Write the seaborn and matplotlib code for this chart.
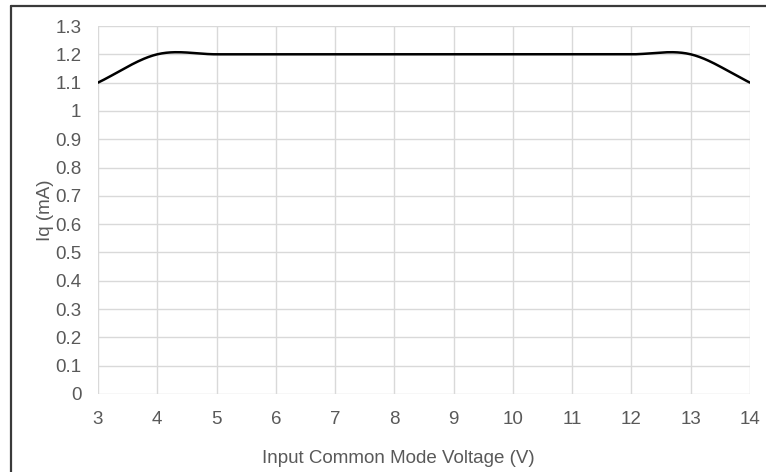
import numpy as np
import pandas as pd
import matplotlib
matplotlib.use('Agg')
import matplotlib.pyplot as plt
import seaborn as sb
from matplotlib.lines import Line2D

# values
voltage = [3, 4, 5, 6, 7, 8, 9, 10, 11, 12, 13, 14]
iq_ma = [1.1, 1.2, 1.2, 1.2, 1.2, 1.2, 1.2, 1.2, 1.2, 1.2, 1.2, 1.1]
x_ticks = list(range(3, 15))
y_ticks = [round(0.1 * i, 1) for i in range(14)]
y_labels = ['0', '0.1', '0.2', '0.3', '0.4', '0.5', '0.6', '0.7', '0.8',
            '0.9', '1', '1.1', '1.2', '1.3']


def smooth(x, y, steps=40):
    """Excel style smoothed line (Catmull-Rom through the data points)"""
    x = np.asarray(x, float)
    y = np.asarray(y, float)
    px = np.concatenate([[2 * x[0] - x[1]], x, [2 * x[-1] - x[-2]]])
    py = np.concatenate([[y[0]], y, [y[-1]]])
    xs, ys = [], []
    t = np.linspace(0, 1, steps, endpoint=False)
    for i in range(1, len(px) - 2):
        p0, p1, p2, p3 = py[i - 1], py[i], py[i + 1], py[i + 2]
        m1 = (p2 - p0) / 2
        m2 = (p3 - p1) / 2
        if i == 1:
            m1 = (p2 - p1)
        if i == len(px) - 3:
            m2 = (p2 - p1)
        h00 = 2 * t**3 - 3 * t**2 + 1
        h10 = t**3 - 2 * t**2 + t
        h01 = -2 * t**3 + 3 * t**2
        h11 = t**3 - t**2
        xs.append(px[i] + t * (px[i + 1] - px[i]))
        ys.append(h00 * p1 + h10 * m1 + h01 * p2 + h11 * m2)
    xs.append([x[-1]])
    ys.append([y[-1]])
    return np.concatenate(xs), np.concatenate(ys)


def main():
    sb.set_style('white')
    plt.rcParams['font.family'] = ['Liberation Sans', 'DejaVu Sans']

    sx, sy = smooth(voltage, iq_ma)
    df = pd.DataFrame({'v': sx, 'iq': sy})

    fig = plt.figure(figsize=(7.66, 4.72), dpi=100)
    ax = fig.add_axes([98 / 766, 1 - 394 / 472, (750 - 98) / 766,
                       (394 - 26) / 472])

    sb.lineplot(data=df, x='v', y='iq', ax=ax, color='black',
                linewidth=1.8, sort=False)

    ax.set_xlim(3, 14)
    ax.set_ylim(0, 1.3)
    ax.set_xticks(x_ticks)
    ax.set_xticklabels([str(v) for v in x_ticks])
    ax.set_yticks(y_ticks)
    ax.set_yticklabels(y_labels)
    ax.grid(True, color='#d9d9d9', linewidth=1)
    ax.set_axisbelow(True)
    for s in ax.spines.values():
        s.set_visible(False)
    ax.tick_params(axis='both', length=0, labelsize=13.5,
                   colors='#595959')
    ax.tick_params(axis='x', pad=12)
    ax.tick_params(axis='y', pad=12)
    # label is centred on the chart, not on the plot area
    ax.set_xlabel('Input Common Mode Voltage (V)', fontsize=13.5,
                  color='#595959', labelpad=16, x=0.46)
    ax.set_ylabel('Iq (mA)', fontsize=13.5, color='#595959', labelpad=1)

    # chart border
    fig.add_artist(Line2D([11 / 766, 11 / 766], [0, 1 - 6 / 472],
                          color='#3a3a3a', linewidth=1.6,
                          transform=fig.transFigure))
    fig.add_artist(Line2D([11 / 766, 1], [1 - 6 / 472, 1 - 6 / 472],
                          color='#3a3a3a', linewidth=1.6,
                          transform=fig.transFigure))

    fig.savefig('out.png', dpi=100)


if __name__ == '__main__':
    main()
